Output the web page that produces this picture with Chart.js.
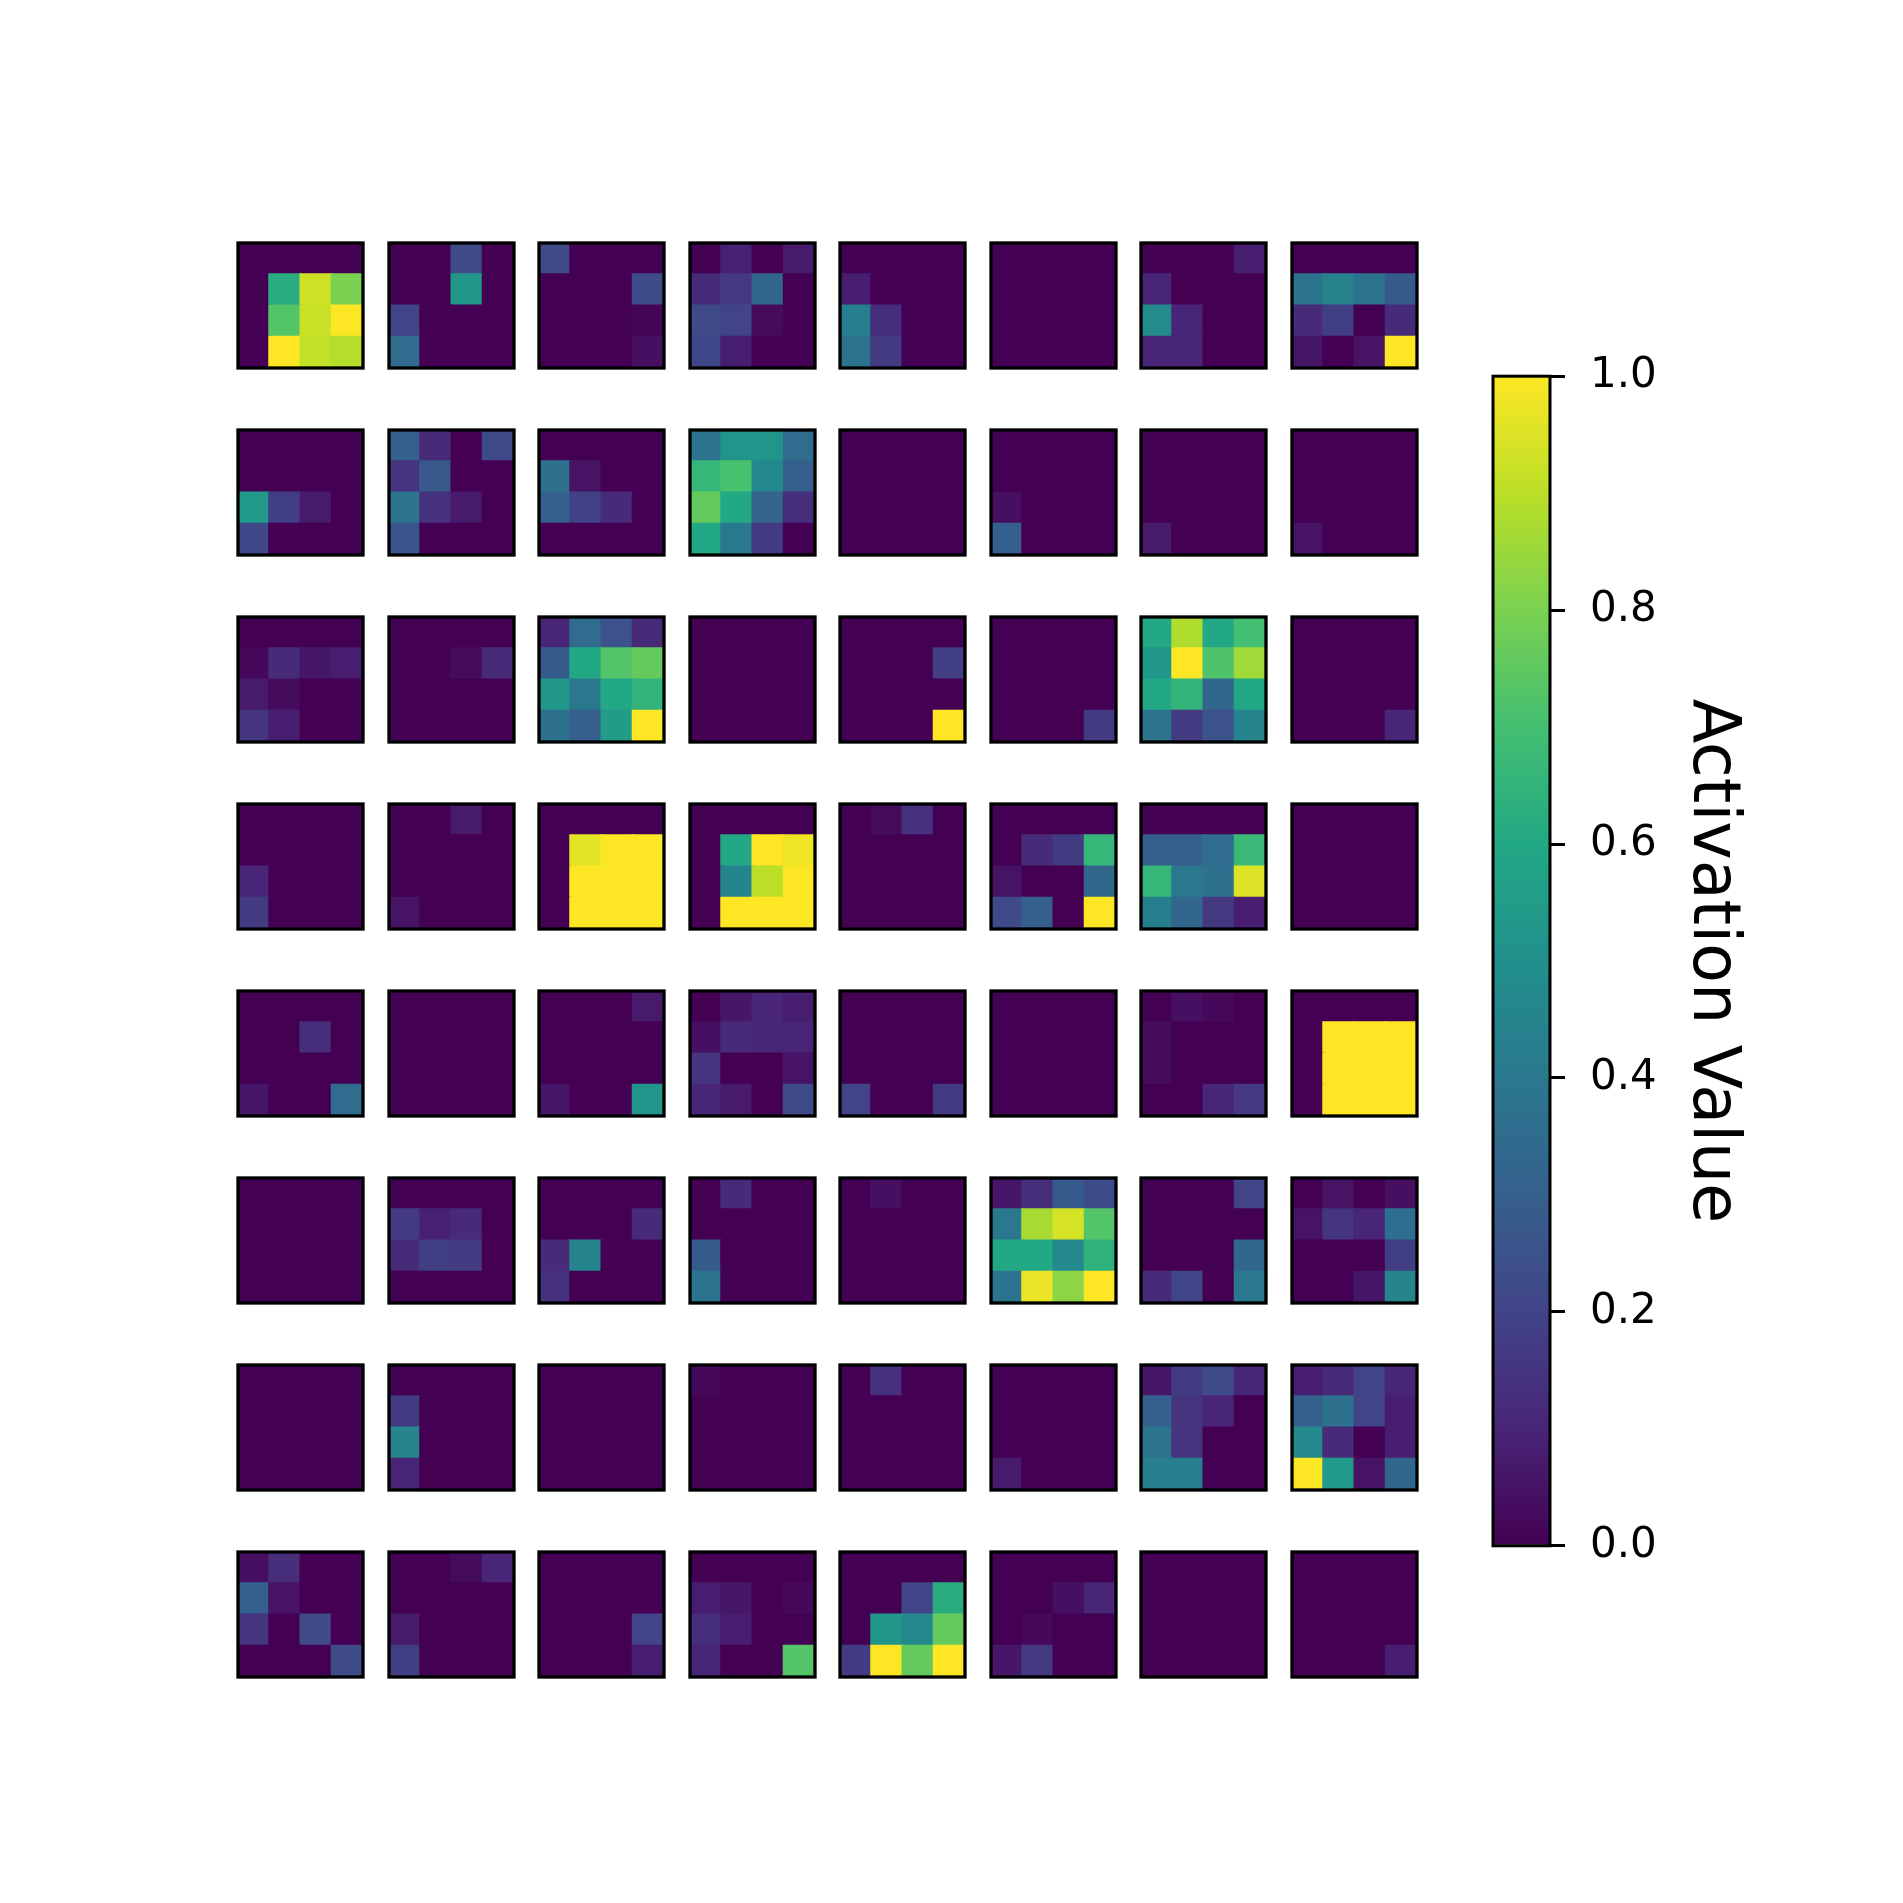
<!DOCTYPE html>
<html>
<head>
<meta charset="utf-8">
<script src="https://cdn.jsdelivr.net/npm/chart.js@4.4.1/dist/chart.umd.min.js"></script>
<style>
  body { margin: 0; background: #fff; }
  #page { position: relative; width: 1903px; height: 1903px; background: #fff; }
  canvas { position: absolute; }
</style>
</head>
<body>
<div id="page"></div>
<script>
// activation maps, 8 rows of 8 filters, each a 4x4 grid (top row first)
var z4 = [[0,0,0,0],[0,0,0,0],[0,0,0,0],[0,0,0,0]];

var mapsRow1 = [
    [[0,0,0,0],[0,0.62,0.93,0.8],[0,0.73,0.92,1.0],[0,1.0,0.91,0.89]],
    [[0,0,0.22,0],[0,0,0.53,0],[0.2,0,0,0],[0.35,0,0,0]],
    [[0.22,0,0,0],[0,0,0,0.23],[0,0,0,0.01],[0,0,0,0.04]],
    [[0,0.09,0,0.07],[0.12,0.16,0.33,0],[0.22,0.2,0.03,0],[0.21,0.08,0,0]],
    [[0,0,0,0],[0.08,0,0,0],[0.43,0.13,0,0],[0.38,0.17,0,0]],
    z4,
    [[0,0,0,0.08],[0.1,0,0,0],[0.48,0.1,0,0],[0.1,0.1,0,0]],
    [[0,0,0,0],[0.38,0.44,0.38,0.28],[0.12,0.18,0,0.12],[0.06,0,0.05,1.0]]
];
var mapsRow2 = [
    [[0,0,0,0],[0,0,0,0],[0.54,0.18,0.07,0],[0.21,0,0,0]],
    [[0.3,0.12,0,0.22],[0.15,0.27,0,0],[0.38,0.14,0.07,0],[0.26,0,0,0]],
    [[0,0,0,0],[0.37,0.05,0,0],[0.3,0.19,0.12,0],[0,0,0,0]],
    [[0.38,0.52,0.52,0.35],[0.66,0.71,0.47,0.3],[0.76,0.6,0.32,0.13],[0.6,0.4,0.17,0]],
    z4,
    [[0,0,0,0],[0,0,0,0],[0.04,0,0,0],[0.3,0,0,0]],
    [[0,0,0,0],[0,0,0,0],[0,0,0,0],[0.07,0,0,0]],
    [[0,0,0,0],[0,0,0,0],[0,0,0,0],[0.05,0,0,0]]
];
var mapsRow3 = [
    [[0,0,0,0],[0.02,0.12,0.06,0.08],[0.07,0.03,0,0],[0.15,0.08,0,0]],
    [[0,0,0,0],[0,0,0.03,0.12],[0,0,0,0],[0,0,0,0]],
    [[0.1,0.35,0.25,0.12],[0.28,0.6,0.73,0.76],[0.53,0.4,0.6,0.65],[0.37,0.3,0.55,1.0]],
    z4,
    [[0,0,0,0],[0,0,0,0.18],[0,0,0,0],[0,0,0,1.0]],
    [[0,0,0,0],[0,0,0,0],[0,0,0,0],[0,0,0,0.17]],
    [[0.6,0.88,0.6,0.7],[0.53,1.0,0.72,0.86],[0.6,0.65,0.33,0.6],[0.38,0.17,0.25,0.45]],
    [[0,0,0,0],[0,0,0,0],[0,0,0,0],[0,0,0,0.1]]
];
var mapsRow4 = [
    [[0,0,0,0],[0,0,0,0],[0.1,0,0,0],[0.17,0,0,0]],
    [[0,0,0.07,0],[0,0,0,0],[0,0,0,0],[0.05,0,0,0]],
    [[0,0,0,0],[0,0.96,1,1],[0,1,1,1],[0,1,1,1]],
    [[0,0,0,0],[0,0.6,1,0.98],[0,0.45,0.9,1],[0,1,1,1]],
    [[0,0.03,0.14,0],[0,0,0,0],[0,0,0,0],[0,0,0,0]],
    [[0,0,0,0],[0,0.12,0.17,0.66],[0.05,0,0,0.33],[0.22,0.3,0,1.0]],
    [[0,0,0,0],[0.3,0.3,0.35,0.67],[0.66,0.4,0.37,0.95],[0.43,0.33,0.16,0.08]],
    z4
];
var mapsRow5 = [
    [[0,0,0,0],[0,0,0.13,0],[0,0,0,0],[0.06,0,0,0.35]],
    z4,
    [[0,0,0,0.07],[0,0,0,0],[0,0,0,0],[0.06,0,0,0.52]],
    [[0,0.06,0.1,0.08],[0.04,0.12,0.1,0.1],[0.15,0,0,0.05],[0.1,0.07,0,0.22]],
    [[0,0,0,0],[0,0,0,0],[0,0,0,0],[0.2,0,0,0.17]],
    z4,
    [[0,0.04,0.02,0],[0.03,0,0,0],[0.03,0,0,0],[0,0,0.1,0.16]],
    [[0,0,0,0],[0,1,1,1],[0,1,1,1],[0,1,1,1]]
];
var mapsRow6 = [
    z4,
    [[0,0,0,0],[0.17,0.09,0.12,0],[0.12,0.18,0.17,0],[0,0,0,0]],
    [[0,0,0,0],[0,0,0,0.12],[0.12,0.45,0,0],[0.14,0,0,0]],
    [[0,0.12,0,0],[0,0,0,0],[0.28,0,0,0],[0.38,0,0,0]],
    [[0,0.04,0,0],[0,0,0,0],[0,0,0,0],[0,0,0,0]],
    [[0.06,0.13,0.28,0.23],[0.4,0.87,0.94,0.73],[0.6,0.6,0.47,0.64],[0.38,0.97,0.83,1.0]],
    [[0,0,0,0.2],[0,0,0,0],[0,0,0,0.33],[0.12,0.2,0,0.4]],
    [[0,0.05,0,0.04],[0.05,0.15,0.1,0.36],[0,0,0,0.18],[0,0,0.06,0.45]]
];
var mapsRow7 = [
    z4,
    [[0,0,0,0],[0.17,0,0,0],[0.45,0,0,0],[0.1,0,0,0]],
    z4,
    [[0.02,0,0,0],[0,0,0,0],[0,0,0,0],[0,0,0,0]],
    [[0,0.14,0,0],[0,0,0,0],[0,0,0,0],[0,0,0,0]],
    [[0,0,0,0],[0,0,0,0],[0,0,0,0],[0.07,0,0,0]],
    [[0.06,0.17,0.22,0.1],[0.3,0.15,0.1,0],[0.38,0.15,0,0],[0.43,0.43,0,0]],
    [[0.08,0.12,0.2,0.1],[0.3,0.37,0.2,0.08],[0.47,0.12,0,0.08],[1.0,0.54,0.05,0.33]]
];
var mapsRow8 = [
    [[0.04,0.13,0,0],[0.3,0.05,0,0],[0.15,0,0.22,0],[0,0,0,0.22]],
    [[0,0,0.03,0.1],[0,0,0,0],[0.07,0,0,0],[0.18,0,0,0]],
    [[0,0,0,0],[0,0,0,0],[0,0,0,0.2],[0,0,0,0.08]],
    [[0,0,0,0],[0.08,0.06,0,0.02],[0.13,0.08,0,0],[0.1,0,0,0.73]],
    [[0,0,0,0],[0,0,0.2,0.62],[0,0.53,0.47,0.76],[0.17,1.0,0.76,1.0]],
    [[0,0,0,0],[0,0,0.04,0.1],[0,0.02,0,0],[0.06,0.16,0,0]],
    z4,
    [[0,0,0,0],[0,0,0,0],[0,0,0,0],[0,0,0,0.08]]
];

var cellLabels = ['0', '1', '2', '3'];
var cbTicks = [0, 0.2, 0.4, 0.6, 0.8, 1.0];
var cbTitle = 'Activation Value';

var allRows = [mapsRow1, mapsRow2, mapsRow3, mapsRow4, mapsRow5, mapsRow6, mapsRow7, mapsRow8];

// viridis colormap
var viridis = ['#440154', '#482576', '#414487', '#35608d', '#2a788e', '#21908c',
               '#22a884', '#43bf71', '#7ad151', '#bbdf27', '#fde725'];

function hexRgb(h) {
    return [parseInt(h.substr(1, 2), 16), parseInt(h.substr(3, 2), 16), parseInt(h.substr(5, 2), 16)];
}

function colorFor(v) {
    v = Math.max(0, Math.min(1, v));
    var p = v * (viridis.length - 1);
    var i = Math.min(Math.floor(p), viridis.length - 2);
    var t = p - i;
    var a = hexRgb(viridis[i]), b = hexRgb(viridis[i + 1]);
    var c = a.map(function (x, k) { return Math.round(x + (b[k] - x) * t); });
    return 'rgb(' + c[0] + ',' + c[1] + ',' + c[2] + ')';
}

var framePlugin = {
    id: 'frame',
    afterDraw: function (chart, args, opts) {
        var a = chart.chartArea;
        var ctx = chart.ctx;
        ctx.save();
        ctx.strokeStyle = '#000';
        ctx.lineWidth = opts.width || 3.3;
        ctx.strokeRect(a.left, a.top, a.right - a.left, a.bottom - a.top);
        ctx.restore();
    }
};

Chart.defaults.font.family = 'DejaVu Sans';
Chart.defaults.color = '#000';

var page = document.getElementById('page');
var x0 = 238.4, y0 = 243.3, size = 125, pad = 4;
var colStep = 150.5, rowStep = 187;

allRows.forEach(function (row, r) {
    row.forEach(function (grid, c) {
        var cv = document.createElement('canvas');
        cv.width = size + 2 * pad;
        cv.height = size + 2 * pad;
        cv.style.left = (x0 + c * colStep - pad) + 'px';
        cv.style.top = (y0 + r * rowStep - pad) + 'px';
        page.appendChild(cv);

        // stacked bars: first dataset is the bottom row of the grid
        var datasets = [];
        for (var k = grid.length - 1; k >= 0; k--) {
            datasets.push({
                data: grid[k].map(function () { return 1; }),
                backgroundColor: grid[k].map(colorFor),
                borderWidth: 0,
                inflateAmount: 1,
                barPercentage: 1,
                categoryPercentage: 1
            });
        }

        new Chart(cv, {
            type: 'bar',
            data: { labels: cellLabels, datasets: datasets },
            options: {
                responsive: false,
                animation: false,
                events: [],
                layout: { padding: pad },
                plugins: { legend: { display: false }, tooltip: { enabled: false } },
                scales: {
                    x: { stacked: true, display: false },
                    y: { stacked: true, display: false, min: 0, max: grid.length }
                }
            },
            plugins: [framePlugin]
        });
    });
});

// colorbar
var cb = document.createElement('canvas');
cb.width = 261;
cb.height = 1270;
cb.style.left = '1489px';
cb.style.top = '326px';
page.appendChild(cb);

new Chart(cb, {
    type: 'bar',
    data: {
        labels: ['cb'],
        datasets: [{
            data: [cbTicks[cbTicks.length - 1]],
            borderWidth: 0,
            barPercentage: 1,
            categoryPercentage: 1,
            backgroundColor: function (context) {
                var area = context.chart.chartArea;
                if (!area) return viridis[0];
                var g = context.chart.ctx.createLinearGradient(0, area.bottom, 0, area.top);
                viridis.forEach(function (col, i) { g.addColorStop(i / (viridis.length - 1), col); });
                return g;
            }
        }]
    },
    options: {
        responsive: false,
        animation: false,
        events: [],
        layout: { padding: { left: 4, right: 0, top: 40, bottom: 40 } },
        plugins: { legend: { display: false }, tooltip: { enabled: false }, frame: { width: 3 } },
        scales: {
            x: { display: false },
            y: {
                position: 'right',
                min: cbTicks[0],
                max: cbTicks[cbTicks.length - 1],
                afterBuildTicks: function (s) {
                    s.ticks = cbTicks.map(function (v) { return { value: v }; });
                },
                afterFit: function (s) { s.width = 200; },
                border: { display: false },
                grid: { drawOnChartArea: false, drawTicks: true, tickLength: 15, lineWidth: 3, color: '#000' },
                ticks: {
                    padding: 25,
                    color: '#000',
                    font: { size: 42 },
                    callback: function (v) { return Number(v).toFixed(1); }
                },
                title: {
                    display: true,
                    text: cbTitle,
                    color: '#000',
                    padding: 0,
                    font: { size: 65 }
                }
            }
        }
    },
    plugins: [framePlugin]
});
</script>
</body>
</html>
